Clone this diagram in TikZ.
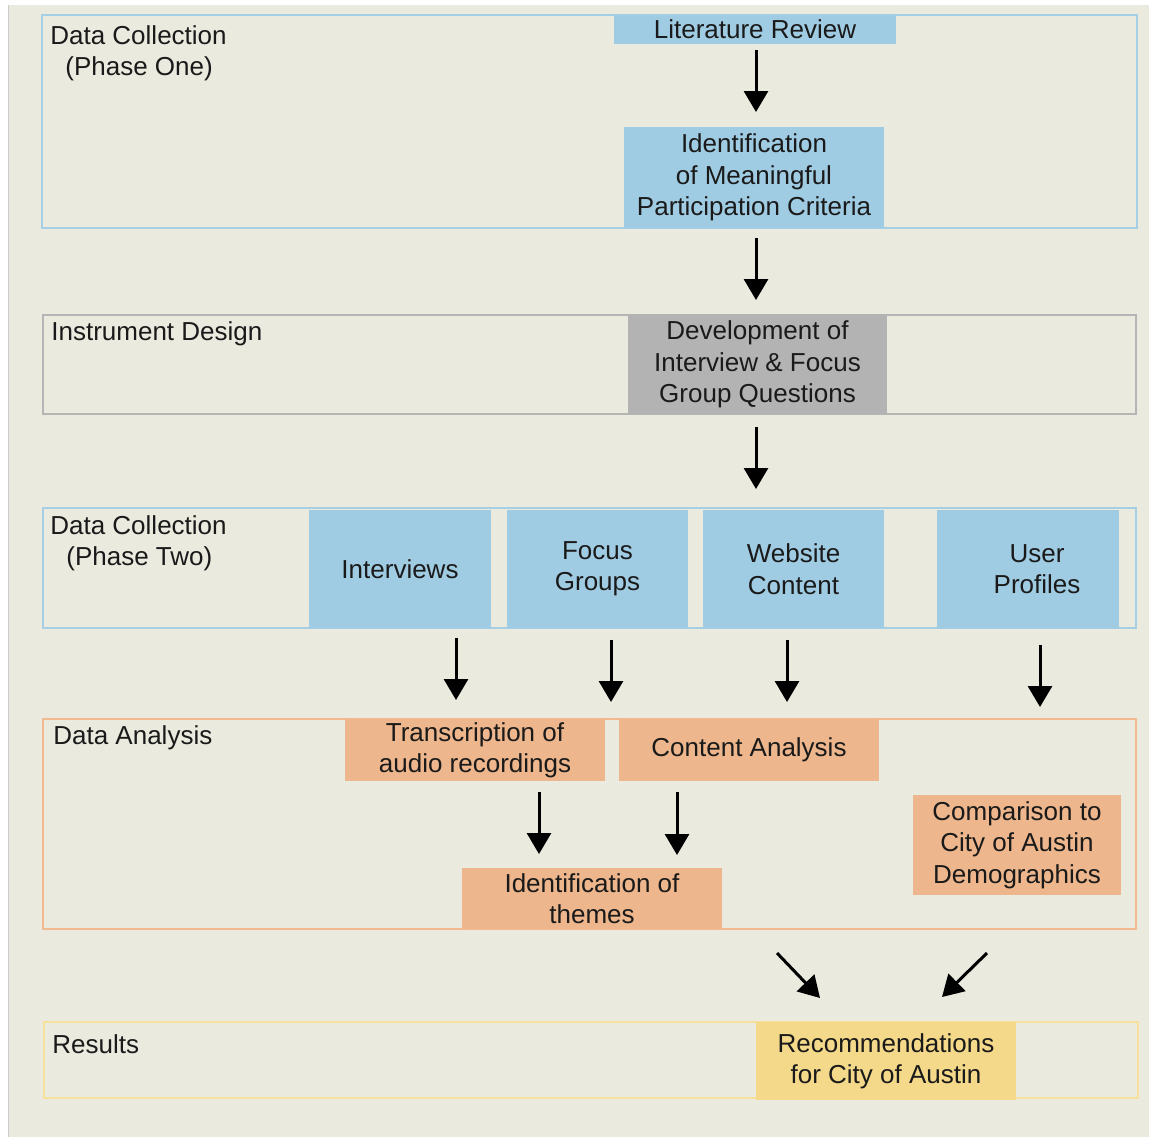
\documentclass[tikz,border=0pt]{standalone}
\usepackage{fontspec}
\setmainfont{Liberation Sans}
\usetikzlibrary{arrows.meta}
\definecolor{bgbeige}{HTML}{EAEADF}
\definecolor{stepblue}{HTML}{A0CCE3}
\definecolor{frameblue}{HTML}{A6CFE5}
\definecolor{stepgray}{HTML}{B3B3B3}
\definecolor{framegray}{HTML}{B5B5B5}
\definecolor{steporange}{HTML}{EDB68C}
\definecolor{frameorange}{HTML}{F2BA93}
\definecolor{stepyellow}{HTML}{F4D98A}
\definecolor{frameyellow}{HTML}{F7DF9C}
\definecolor{inktext}{HTML}{1A1A1A}

\begin{document}
\begin{tikzpicture}[x=0.02cm,y=-0.02cm,
    font=\fontsize{14.8}{17.9}\selectfont,
    every node/.style={text=inktext},
    frame/.style={line width=0.04cm},
    stage/.style={anchor=west,align=left,inner sep=0pt},
    stepbox/.style={align=center,inner sep=0pt},
    arr/.style={line width=0.06cm,-{Triangle[width=0.48cm,length=0.42cm]}}]
			%%%%% START %%%%%
			
			\useasboundingbox (0,0) rectangle (1149,1137);
			\fill[white] (0,0) rectangle (1149,1137);
			\fill[bgbeige] (8,5) rectangle (1149,1137);
			\draw[black!20] (8,5) -- (8,1137);
			
			% phase one
			\draw[frame, frameblue] (42,15) rectangle (1137,228);
			\node[stage] (p1) at (50,53) {Data Collection\\\hspace{0.3cm}(Phase One)};
			\node[stepbox, fill=stepblue, minimum width=5.64cm, minimum height=0.58cm] (lit) at (755,29.5) {Literature Review};
			\node[stepbox, fill=stepblue, minimum width=5.2cm, minimum height=2.02cm] (crit) at (754,177.5) {Identification\\of Meaningful\\Participation Criteria};
			
			% instrument design
			\draw[frame, framegray] (43,315) rectangle (1136,414);
			\node[stage] (inst) at (51,334) {Instrument Design};
			\node[stepbox, fill=stepgray, minimum width=5.18cm, minimum height=1.98cm] (devq) at (757.5,364.5) {Development of\\Interview \& Focus\\Group Questions};
			
			% phase two
			\draw[frame, frameblue] (43,508) rectangle (1136,628);
			\node[stage] (p2) at (50,543) {Data Collection\\\hspace{0.32cm}(Phase Two)};
			\node[stepbox, fill=stepblue, minimum width=3.64cm, minimum height=2.36cm] (intv) at (400,569) {Interviews};
			\node[stepbox, fill=stepblue, minimum width=3.62cm, minimum height=2.36cm] (focus) at (597.5,569) {Focus\\Groups};
			\node[stepbox, fill=stepblue, minimum width=3.62cm, minimum height=2.36cm] (web) at (793.5,569) {Website\\Content};
			\node[stepbox, fill=stepblue, minimum width=3.64cm, minimum height=2.36cm] (user) at (1028,569) {\hspace{0.36cm}User\\\hspace{0.36cm}Profiles};
			
			% data analysis
			\draw[frame, frameorange] (43,719) rectangle (1136,929);
			\node[stage] (anal) at (53,738) {Data Analysis};
			\node[stepbox, fill=steporange, minimum width=5.2cm, minimum height=1.24cm] (trans) at (475,750) {Transcription of\\audio recordings};
			\node[stepbox, fill=steporange, minimum width=5.2cm, minimum height=1.24cm] (cont) at (749,750) {Content Analysis};
			\node[stepbox, fill=steporange, minimum width=4.16cm, minimum height=2.0cm] (comp) at (1017,845) {Comparison to\\City of Austin\\Demographics};
			\node[stepbox, fill=steporange, minimum width=5.2cm, minimum height=1.22cm] (theme) at (592,898.5) {Identification of\\themes};
			
			% results
			\draw[frame, frameyellow] (44,1022) rectangle (1138,1098);
			\node[stage] (res) at (52,1044) {Results};
			\node[stepbox, fill=stepyellow, minimum width=5.2cm, minimum height=1.56cm] (rec) at (886,1061) {Recommendations\\for City of Austin};
			
			% arrows
			\coordinate (a1) at (756,50);
			\coordinate (a2) at (756,238);
			\coordinate (a3) at (756,427);
			\coordinate (a4) at (456,638);
			\coordinate (a5) at (611,640);
			\coordinate (a6) at (787,640);
			\coordinate (a7) at (1040,645);
			\coordinate (a8) at (539,792);
			\coordinate (a9) at (677,792);
			\draw[arr] (a1) -- ++(0,62);
			\draw[arr] (a2) -- ++(0,62);
			\draw[arr] (a3) -- ++(0,62);
			\draw[arr] (a4) -- ++(0,62);
			\draw[arr] (a5) -- ++(0,62);
			\draw[arr] (a6) -- ++(0,62);
			\draw[arr] (a7) -- ++(0,62);
			\draw[arr] (a8) -- ++(0,62);
			\draw[arr] (a9) -- ++(0,63);
			\coordinate (d1) at (777,953);
			\coordinate (d2) at (987,953);
			\draw[arr] (d1) -- ++(43,45);
			\draw[arr] (d2) -- ++(-45,44);
			
			%%%%% END %%%%%
\end{tikzpicture}
\end{document}
